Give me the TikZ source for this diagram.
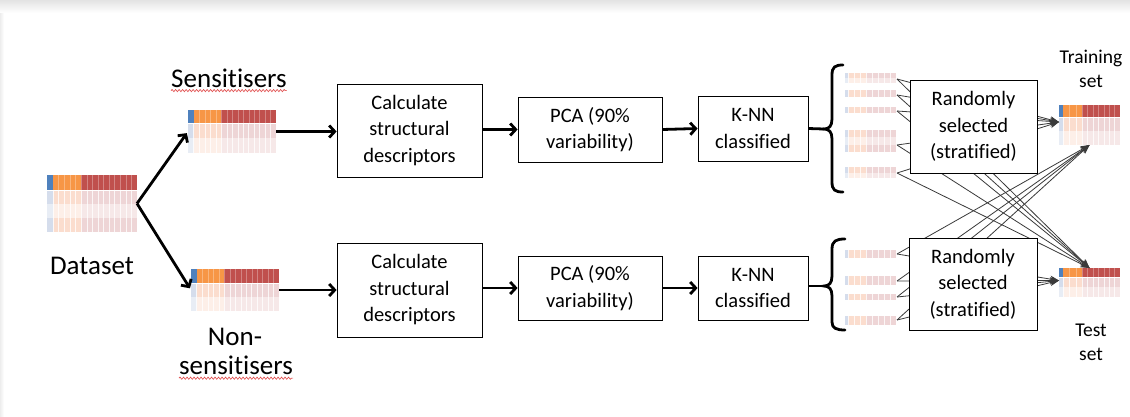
\documentclass[tikz,border=0pt]{standalone}
\usepackage{fontspec}
\setmainfont[Ligatures={NoCommon}]{Carlito}
\usetikzlibrary{arrows.meta,decorations.pathmorphing,fit}

% table colours
\definecolor{cblue}{HTML}{4F81BD}
\definecolor{corange}{HTML}{F79646}
\definecolor{cred}{HTML}{C0504D}
\definecolor{pblueA}{HTML}{D5DDEC}
\definecolor{porangeA}{HTML}{FBDDCE}
\definecolor{predA}{HTML}{EED5D6}
\definecolor{pblueB}{HTML}{E8EDF5}
\definecolor{porangeB}{HTML}{FDEFE8}
\definecolor{predB}{HTML}{F6E8E8}
\definecolor{lineg}{HTML}{3A3A3A}
\definecolor{spell}{HTML}{E04848}

\tikzset{
  procbox/.style={draw=black, line width=0.8pt, fill=white, align=center,
    inner sep=0pt, font=\fontsize{20.5}{26.5}\selectfont},
  biglabel/.style={inner sep=0pt, font=\fontsize{27}{30}\selectfont},
  smalllabel/.style={inner sep=0pt, font=\fontsize{19.5}{22}\selectfont},
  flow/.style={line width=2.8pt, -{Straight Barb[length=5.5pt,width=12pt]}},
  plainflow/.style={line width=2.8pt},
  bracepath/.style={line width=2.8pt, line cap=round},
  fan/.style={draw=lineg, line width=0.8pt, -{Stealth[length=9pt,width=7pt]}},
  cellsep/.style={draw=white, line width=0.5pt, opacity=0.8},
  headsep/.style={draw=white, line width=0.4pt, opacity=0.3},
  wavy/.style={draw=spell, line width=0.6pt, decorate,
    decoration={snake, amplitude=1.1pt, segment length=3.5pt}},
}

% heat-map table: name, left, top, width, header height, row height, rows
\newcommand\heattab[7]{%
  \pgfmathsetmacro\hxa{#2}%
  \pgfmathsetmacro\hya{#3}%
  \pgfmathsetmacro\hxb{#2+0.065*#4}%
  \pgfmathsetmacro\hxo{#2+0.38*#4}%
  \pgfmathsetmacro\hxe{#2+#4}%
  \pgfmathsetmacro\hyh{#3+#5}%
  \pgfmathsetmacro\hye{#3+#5+#6*#7}%
  \fill[cblue] (\hxa,\hya) rectangle (\hxb,\hyh);
  \fill[corange] (\hxb,\hya) rectangle (\hxo,\hyh);
  \fill[cred] (\hxo,\hya) rectangle (\hxe,\hyh);
  \foreach \r in {1,...,#7}{%
    \pgfmathsetmacro\rya{\hyh+(\r-1)*#6}%
    \pgfmathsetmacro\ryb{\hyh+\r*#6}%
    \ifodd\r \def\tn{A}\else\def\tn{B}\fi
    \fill[pblue\tn] (\hxa,\rya) rectangle (\hxb,\ryb);
    \fill[porange\tn] (\hxb,\rya) rectangle (\hxo,\ryb);
    \fill[pred\tn] (\hxo,\rya) rectangle (\hxe,\ryb);
  }
  \pgfmathtruncatemacro\nco{round((\hxo-\hxb)/5.6)}%
  \pgfmathtruncatemacro\ncr{round((\hxe-\hxo)/5.6)}%
  \foreach \k in {1,...,\nco}{%
    \draw[headsep] ({\hxb+\k*(\hxo-\hxb)/\nco},\hya) -- ({\hxb+\k*(\hxo-\hxb)/\nco},\hyh);
    \draw[cellsep] ({\hxb+\k*(\hxo-\hxb)/\nco},\hyh) -- ({\hxb+\k*(\hxo-\hxb)/\nco},\hye);}
  \foreach \k in {1,...,\ncr}{%
    \draw[headsep] ({\hxo+\k*(\hxe-\hxo)/\ncr},\hya) -- ({\hxo+\k*(\hxe-\hxo)/\ncr},\hyh);
    \draw[cellsep] ({\hxo+\k*(\hxe-\hxo)/\ncr},\hyh) -- ({\hxo+\k*(\hxe-\hxo)/\ncr},\hye);}
  \draw[cellsep] (\hxb,\hyh) -- (\hxb,\hye);
  \draw[draw=white, line width=0.8pt] (\hxa,\hyh) -- (\hxe,\hyh);
  \node[fit={(\hxa,\hya) (\hxe,\hye)}, inner sep=0pt, outer sep=0pt] (#1) {};
}

% faint sampled rows: top, bottom, number of rows
\newcommand\ministrip[3]{%
  \pgfmathsetmacro\sdy{(#2-#1)/#3}%
  \foreach \r in {1,...,#3}{%
    \pgfmathsetmacro\rya{#1+(\r-1)*\sdy}%
    \pgfmathsetmacro\ryb{#1+\r*\sdy}%
    \ifodd\r \def\tn{A}\else\def\tn{B}\fi
    \fill[pblue\tn] (845,\rya) rectangle (848,\ryb);
    \fill[porange\tn] (848,\rya) rectangle (866,\ryb);
    \fill[pred\tn] (866,\rya) rectangle (896,\ryb);
  }
  \foreach \k in {0,...,8}{\draw[cellsep] ({848+\k*6},#1) -- ({848+\k*6},#2);}
}

\begin{document}
\begin{tikzpicture}[x=1pt, y=-1pt]
  \useasboundingbox (0,0) rectangle (1130,416);
  \fill[white] (0,0) rectangle (1130,416);
  % page shadow at the top and left edge
  \shade[top color=black!11, bottom color=white] (0,0) rectangle (1130,13);
  \shade[left color=black!7, right color=white] (0,13) rectangle (4,416);

  % ---- tables ----
  \heattab{data}{47}{175}{90}{15}{14}{3}
  \heattab{sens}{188}{110}{88}{13}{15}{2}
  \heattab{nons}{191}{269}{88}{14}{14}{2}
  \heattab{train}{1059}{105}{61}{12}{14}{2}
  \heattab{test}{1059}{268}{61}{9}{10}{2}

  % ---- labels ----
  \node[biglabel] (ldata) at (92,266) {Dataset};
  \node[biglabel] (lsens) at (229,78) {Sensitisers};
  \node[biglabel] (lnon) at (235,337) {Non-};
  \node[biglabel] (lnons) at (236,365) {sensitisers};
  \draw[wavy] ([yshift=-3pt]lsens.south west) -- ([yshift=-3pt]lsens.south east);
  \draw[wavy] ([yshift=-4pt]lnons.base west) -- ([yshift=-4pt]lnons.base east);
  \node[smalllabel, anchor=base] (ltrain) at (1091,63) {Training};
  \node[smalllabel, anchor=base] (ltrainb) at (1091,87) {set};
  \node[smalllabel, anchor=base] (ltest) at (1091,336) {Test};
  \node[smalllabel, anchor=base] (ltestb) at (1091,360) {set};

  % ---- sampled rows ----
  \ministrip{73}{83}{2}
  \ministrip{90}{97}{1}
  \ministrip{107}{113}{1}
  \ministrip{130}{152}{3}
  \ministrip{167}{178}{2}
  \ministrip{250}{258}{1}
  \ministrip{276}{285}{1}
  \ministrip{294}{300}{1}
  \ministrip{316}{325}{1}

  \coordinate (ua) at (897,79);
  \coordinate (ub) at (897,95);
  \coordinate (uc) at (897,111);
  \coordinate (ud) at (897,145);
  \coordinate (ue) at (897,173);
  \coordinate (la) at (897,254);
  \coordinate (lb) at (897,281);
  \coordinate (lc) at (897,297);
  \coordinate (ld) at (897,320);

  % ---- random selection into training and test sets ----
  \foreach \o in {ua,ub,uc,ud,ue}{
    \draw[fan] (\o) -- ([yshift=3pt]train.west);
    \draw[fan] (\o) -- (test.north);
  }
  \foreach \o in {la,lb,lc,ld}{
    \draw[fan] (\o) -- (train.south);
    \draw[fan] (\o) -- ([yshift=2pt]test.west);
  }

  % ---- process boxes ----
  \node[procbox, minimum width=145pt, minimum height=93pt] (calc1) at (409.5,130.5) {Calculate\\structural\\descriptors};
  \node[procbox, minimum width=144pt, minimum height=65pt] (pca1) at (590,129.5) {PCA (90\%\\variability)};
  \node[procbox, minimum width=110pt, minimum height=65pt] (knn1) at (753,128.5) {K-NN\\classified};
  \node[procbox, minimum width=145pt, minimum height=94pt] (calc2) at (409.5,290) {Calculate\\structural\\descriptors};
  \node[procbox, minimum width=144pt, minimum height=64pt] (pca2) at (590,288) {PCA (90\%\\variability)};
  \node[procbox, minimum width=110pt, minimum height=64pt] (knn2) at (753,288) {K-NN\\classified};
  \node[procbox, minimum width=127pt, minimum height=93pt] (rand1) at (973.5,126.5) {Randomly\\selected\\(stratified)};
  \node[procbox, minimum width=128pt, minimum height=92pt] (rand2) at (973,284) {Randomly\\selected\\(stratified)};

  % ---- braces grouping the classified rows ----
  \coordinate (tip1) at (824,129);
  \coordinate (tip2) at (824,286);
  \draw[bracepath] (843,65) .. controls (835,65) and (832,67) .. (832,75)
    -- (832,119) .. controls (832,126) and (829,129) .. (tip1)
    .. controls (829,129) and (832,132) .. (832,139)
    -- (832,182) .. controls (832,190) and (835,192) .. (843,192);
  \draw[bracepath] (845,239) .. controls (836,239) and (832,241) .. (832,249)
    -- (832,276) .. controls (832,283) and (829,286) .. (tip2)
    .. controls (829,286) and (832,289) .. (832,296)
    -- (832,322) .. controls (832,328) and (836,330) .. (845,330);

  % ---- main flow ----
  \draw[flow, shorten >=2pt] (data.east) -- (sens.west);
  \draw[flow, shorten >=2pt] (data.east) -- (nons.west);
  \draw[flow] (sens.east) -- (sens.east -| calc1.west);
  \draw[flow] (nons.east) -- (nons.east -| calc2.west);
  \draw[flow] (calc1.east |- pca1) -- (pca1.west);
  \draw[flow] (calc2.east |- pca2) -- (pca2.west);
  \draw[flow] (pca1.east) -- (knn1.west);
  \draw[flow] (pca2.east) -- (knn2.west);
  \draw[plainflow] (knn1.east) -- (tip1);
  \draw[plainflow] (knn2.east |- tip2) -- (tip2);
\end{tikzpicture}
\end{document}
